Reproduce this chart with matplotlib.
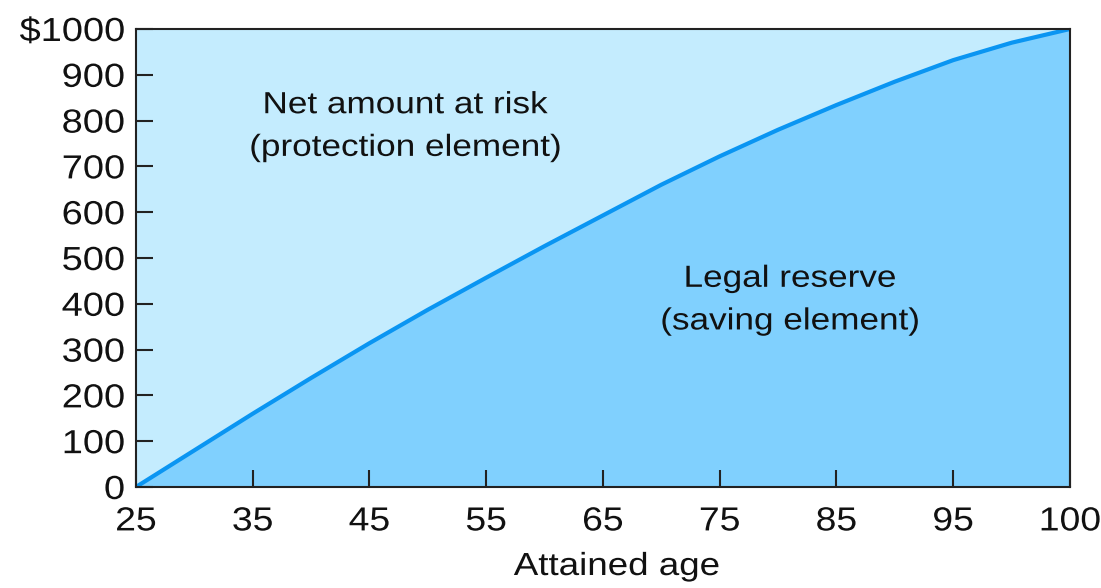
import numpy as np
import matplotlib
matplotlib.use("Agg")
import matplotlib.pyplot as plt
from matplotlib.patheffects import AbstractPathEffect
from matplotlib.transforms import Affine2D

plt.rcParams['font.family'] = ['Liberation Sans', 'DejaVu Sans']

# Ages on the axis (95 -> 100 is drawn as a full step)
tick_ages = [25, 35, 45, 55, 65, 75, 85, 95, 100]
tick_labels = ["25", "35", "45", "55", "65", "75", "85", "95", "100"]

# Legal reserve
ages = [25, 30, 35, 40, 45, 50, 55, 60, 65, 70, 75, 80, 85, 90, 95, 97.5, 100]
reserve = [0, 80, 160, 238, 314, 387, 457, 526, 593, 660, 722, 780, 834, 885, 932, 970, 1000]

y_ticks = [0, 100, 200, 300, 400, 500, 600, 700, 800, 900, 1000]
y_labels = ["0", "100", "200", "300", "400", "500", "600", "700", "800", "900", "$1000"]

light = "#c4ecfe"
dark = "#80d0fe"
line_c = "#0a95f2"
ink = "#111111"


class HStretch(AbstractPathEffect):
    # widen glyphs a little, the original font is broader than Liberation
    def __init__(self, sx, anchor='center'):
        super().__init__()
        self.sx = sx
        self.anchor = anchor

    def draw_path(self, renderer, gc, tpath, affine, rgbFace=None):
        ext = tpath.get_extents()
        if self.anchor == 'right':
            xa = ext.x1
        elif self.anchor == 'left':
            xa = ext.x0
        else:
            xa = (ext.x0 + ext.x1) / 2
        t = Affine2D().translate(-xa, 0).scale(self.sx, 1).translate(xa, 0)
        renderer.draw_path(gc, tpath, t + affine, rgbFace)


pos = np.arange(len(tick_ages))


def fwd(x):
    return np.interp(x, tick_ages, pos)


def inv(p):
    return np.interp(p, pos, tick_ages)


fig = plt.figure(figsize=(11.01, 5.88), dpi=100)
ax = fig.add_axes([0.1235, 0.1718, 0.8483, 0.7789])
ax.set_xscale('function', functions=(fwd, inv))
ax.set_facecolor(light)

ax.fill_between(ages, reserve, 1000, color=light, lw=0)
ax.fill_between(ages, 0, reserve, color=dark, lw=0)
ax.plot(ages, reserve, color=line_c, lw=3, solid_capstyle='round')

ax.set_xlim(25, 100)
ax.set_ylim(0, 1000)
ax.set_xticks(tick_ages)
ax.set_xticklabels(tick_labels)
ax.set_yticks(y_ticks)
ax.set_yticklabels(y_labels)
ax.minorticks_off()

ax.tick_params(axis='x', direction='in', length=12, width=1.5, color='#222222',
               labelsize=24, pad=14, labelcolor=ink)
ax.tick_params(axis='y', direction='in', length=12, width=1.5, color='#222222',
               labelsize=24, pad=8, labelcolor=ink)
for s in ax.spines.values():
    s.set_linewidth(1.5)
    s.set_color('#222222')

for lab in ax.get_xticklabels():
    lab.set_path_effects([HStretch(1.12, 'center')])
for lab in ax.get_yticklabels():
    lab.set_path_effects([HStretch(1.14, 'right')])

t1 = ax.text(0.288, 0.787, "Net amount at risk\n(protection element)", transform=ax.transAxes,
             ha='center', va='center', fontsize=22, color=ink, linespacing=1.55)
t2 = ax.text(0.700, 0.408, "Legal reserve\n(saving element)", transform=ax.transAxes,
             ha='center', va='center', fontsize=22, color=ink, linespacing=1.55)
t3 = fig.text(617 / 1101, 1 - 567 / 588, "Attained age", ha='center', va='center',
              fontsize=23, color=ink)
for t in (t1, t2, t3):
    t.set_path_effects([HStretch(1.15, 'center')])

fig.savefig("out.png", dpi=100)
